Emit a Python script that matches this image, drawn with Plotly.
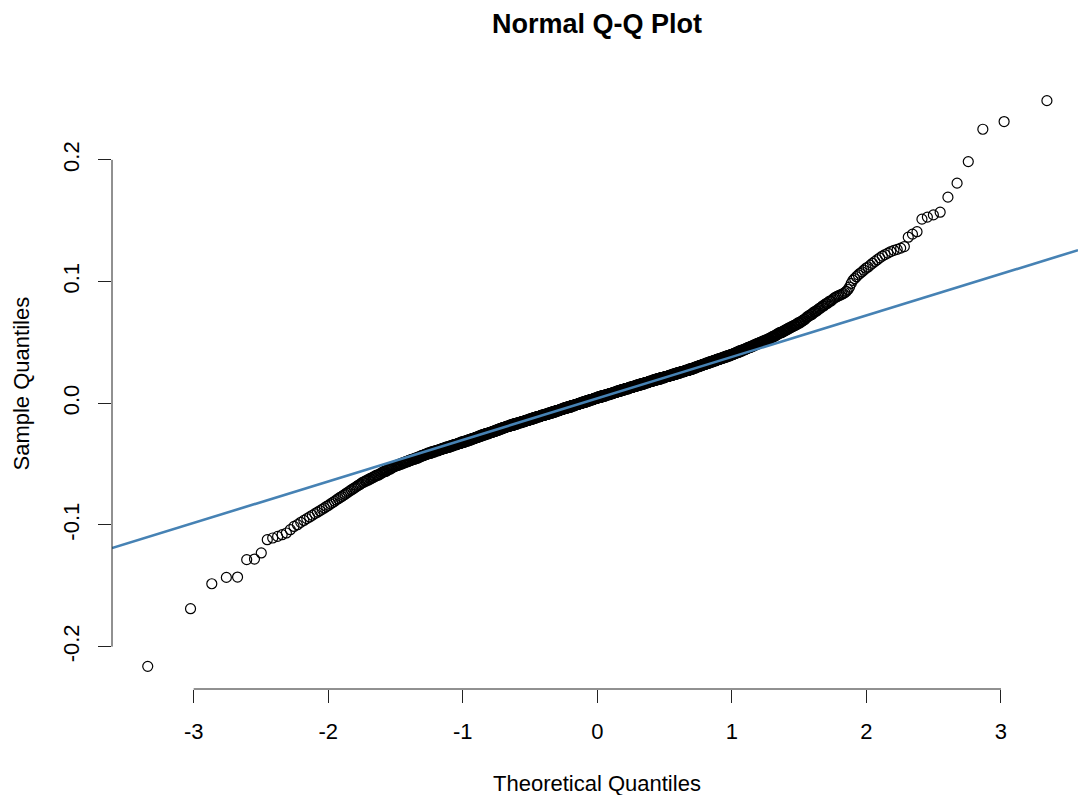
import numpy as np
import plotly.graph_objects as go
from statistics import NormalDist

# ---- data: sorted sample quantiles (n = 1200) ----
# lowest 48 order statistics, one value each
low_tail = [
    -0.2162, -0.1688, -0.1483, -0.1431, -0.1428, -0.1285, -0.1280, -0.1230,
    -0.1121, -0.1107, -0.1094, -0.1080, -0.1066, -0.1039, -0.1012, -0.0998,
    -0.0978, -0.0963, -0.0948, -0.0934, -0.0920, -0.0907, -0.0895, -0.0883,
    -0.0871, -0.0860, -0.0848, -0.0838, -0.0826, -0.0816, -0.0805, -0.0794,
    -0.0784, -0.0774, -0.0766, -0.0756, -0.0747, -0.0738, -0.0729, -0.0720,
    -0.0712, -0.0704, -0.0697, -0.0689, -0.0681, -0.0674, -0.0667, -0.0660,
]

# dense middle band: value (to 0.001) and how many sample points share it
mid_values = [
    -0.065, -0.064, -0.063, -0.062, -0.061, -0.060, -0.059, -0.058, -0.057, -0.056,
    -0.055, -0.054, -0.053, -0.052, -0.051, -0.050, -0.049, -0.048, -0.047, -0.046,
    -0.045, -0.044, -0.043, -0.042, -0.041, -0.040, -0.039, -0.038, -0.037, -0.036,
    -0.035, -0.034, -0.033, -0.032, -0.031, -0.030, -0.029, -0.028, -0.027, -0.026,
    -0.025, -0.024, -0.023, -0.022, -0.021, -0.020, -0.019, -0.018, -0.017, -0.016,
    -0.015, -0.014, -0.013, -0.012, -0.011, -0.010, -0.009, -0.008, -0.007, -0.006,
    -0.005, -0.004, -0.003, -0.002, -0.001, 0.000, 0.001, 0.002, 0.003, 0.004,
    0.005, 0.006, 0.007, 0.008, 0.009, 0.010, 0.011, 0.012, 0.013, 0.014,
    0.015, 0.016, 0.017, 0.018, 0.019, 0.020, 0.021, 0.022, 0.023, 0.024,
    0.025, 0.026, 0.027, 0.028, 0.029, 0.030, 0.031, 0.032, 0.033, 0.034,
    0.035, 0.036, 0.037, 0.038, 0.039, 0.040, 0.041, 0.042, 0.043, 0.044,
    0.045, 0.046, 0.047, 0.048, 0.049, 0.050, 0.051, 0.052, 0.053, 0.054,
    0.055, 0.056, 0.057, 0.058, 0.059, 0.060, 0.061, 0.062, 0.063, 0.064,
    0.065, 0.066, 0.067, 0.068, 0.069, 0.070, 0.071, 0.072, 0.073, 0.074,
    0.075, 0.076, 0.077, 0.078, 0.079, 0.080, 0.081, 0.082, 0.083, 0.084,
    0.085,
]
mid_counts = [
    2, 2, 2, 2, 2, 2, 3, 2, 2, 3,
    2, 3, 2, 3, 4, 4, 4, 4, 4, 5,
    5, 4, 5, 5, 6, 6, 7, 6, 7, 8,
    7, 8, 7, 8, 8, 8, 8, 8, 8, 9,
    9, 9, 9, 9, 9, 10, 11, 11, 11, 12,
    12, 12, 12, 12, 13, 12, 13, 13, 13, 13,
    12, 14, 13, 13, 13, 13, 14, 13, 14, 13,
    14, 14, 14, 14, 13, 14, 14, 14, 13, 13,
    14, 14, 13, 13, 13, 13, 13, 13, 12, 12,
    12, 12, 11, 10, 9, 9, 9, 9, 9, 9,
    8, 8, 8, 8, 8, 7, 6, 6, 6, 6,
    5, 6, 5, 5, 5, 5, 5, 4, 4, 3,
    4, 3, 3, 4, 3, 3, 3, 3, 3, 3,
    2, 3, 2, 2, 2, 1, 2, 2, 2, 1,
    2, 2, 1, 2, 1, 2, 1, 2, 1, 2,
    1,
]

# highest 48 order statistics, one value each
high_tail = [
    0.0860, 0.0868, 0.0874, 0.0880, 0.0885, 0.0890, 0.0896, 0.0902,
    0.0910, 0.0920, 0.0935, 0.0955, 0.0985, 0.1010, 0.1025, 0.1040,
    0.1055, 0.1068, 0.1080, 0.1095, 0.1110, 0.1120, 0.1135, 0.1150,
    0.1165, 0.1180, 0.1195, 0.1210, 0.1222, 0.1234, 0.1247, 0.1257,
    0.1265, 0.1275, 0.1288, 0.1365, 0.1390, 0.1410, 0.1513, 0.1530,
    0.1548, 0.1570, 0.1694, 0.1809, 0.1986, 0.2252, 0.2315, 0.2487,
]

x_ticks = [-3, -2, -1, 0, 1, 2, 3]
x_ticktext = ["-3", "-2", "-1", "0", "1", "2", "3"]
y_ticks = [-0.2, -0.1, 0.0, 0.1, 0.2]
y_ticktext = ["-0.2", "-0.1", "0.0", "0.1", "0.2"]

# ---- Q-Q computation (as R's qqnorm / qqline) ----
sample = np.concatenate([low_tail, np.repeat(mid_values, mid_counts), high_tail])
n = len(sample)
a = 0.5 if n > 10 else 3.0 / 8.0
probs = (np.arange(1, n + 1) - a) / (n + 1 - 2 * a)
nd = NormalDist()
theo = np.array([nd.inv_cdf(p) for p in probs])

yq = np.quantile(sample, [0.25, 0.75])
xq = np.array([nd.inv_cdf(0.25), nd.inv_cdf(0.75)])
slope = (yq[1] - yq[0]) / (xq[1] - xq[0])
intercept = yq[0] - slope * xq[0]

x_range = [-3.607, 3.5725]
y_range = [-0.2348, 0.2673]
line_x = np.array(x_range)
line_y = intercept + slope * line_x

FONT = "Liberation Sans, Arial, Helvetica, sans-serif"

fig = go.Figure()
fig.add_trace(go.Scatter(
    x=theo, y=sample, mode="markers",
    marker=dict(symbol="circle-open", size=10, color="black",
                line=dict(color="black", width=1.2)),
    showlegend=False, hoverinfo="skip",
))
fig.add_trace(go.Scatter(
    x=line_x, y=line_y, mode="lines",
    line=dict(color="steelblue", width=2.6),
    showlegend=False, hoverinfo="skip",
))

fig.update_layout(
    width=1078, height=795,
    margin=dict(l=112, r=0, t=78, b=106),
    paper_bgcolor="white", plot_bgcolor="white",
    font=dict(family=FONT, size=22, color="black"),
    xaxis=dict(range=x_range, tickvals=x_ticks, ticktext=x_ticktext,
               ticks="outside", ticklen=13, tickwidth=1, tickcolor="#222",
               showgrid=False, zeroline=False, showline=False,
               ticklabelstandoff=10,
               tickfont=dict(family=FONT, size=22, color="black")),
    yaxis=dict(range=y_range, tickvals=y_ticks, ticktext=y_ticktext,
               ticks="outside", ticklen=13, tickwidth=1, tickcolor="#222",
               showgrid=False, zeroline=False, showline=False,
               tickangle=-90, ticklabelstandoff=10,
               tickfont=dict(family=FONT, size=22, color="black")),
    shapes=[
        dict(type="line", xref="x", yref="paper", x0=x_ticks[0], x1=x_ticks[-1],
             y0=0, y1=0, line=dict(color="#222", width=1)),
        dict(type="line", xref="paper", yref="y", x0=0, x1=0,
             y0=y_ticks[0], y1=y_ticks[-1], line=dict(color="#222", width=1)),
    ],
    annotations=[
        dict(text="<b>Normal Q-Q Plot</b>", xref="x", yref="paper", x=0, y=1,
             yanchor="middle", yshift=54, showarrow=False,
             font=dict(family=FONT, size=27, color="black")),
        dict(text="Theoretical Quantiles", xref="x", yref="paper", x=0, y=0,
             yanchor="middle", yshift=-94, showarrow=False,
             font=dict(family=FONT, size=22, color="black")),
        dict(text="Sample Quantiles", xref="paper", yref="paper", x=0, y=0.5,
             xanchor="center", xshift=-91, textangle=-90, showarrow=False,
             font=dict(family=FONT, size=22, color="black")),
    ],
)

fig.write_html("out.html")
